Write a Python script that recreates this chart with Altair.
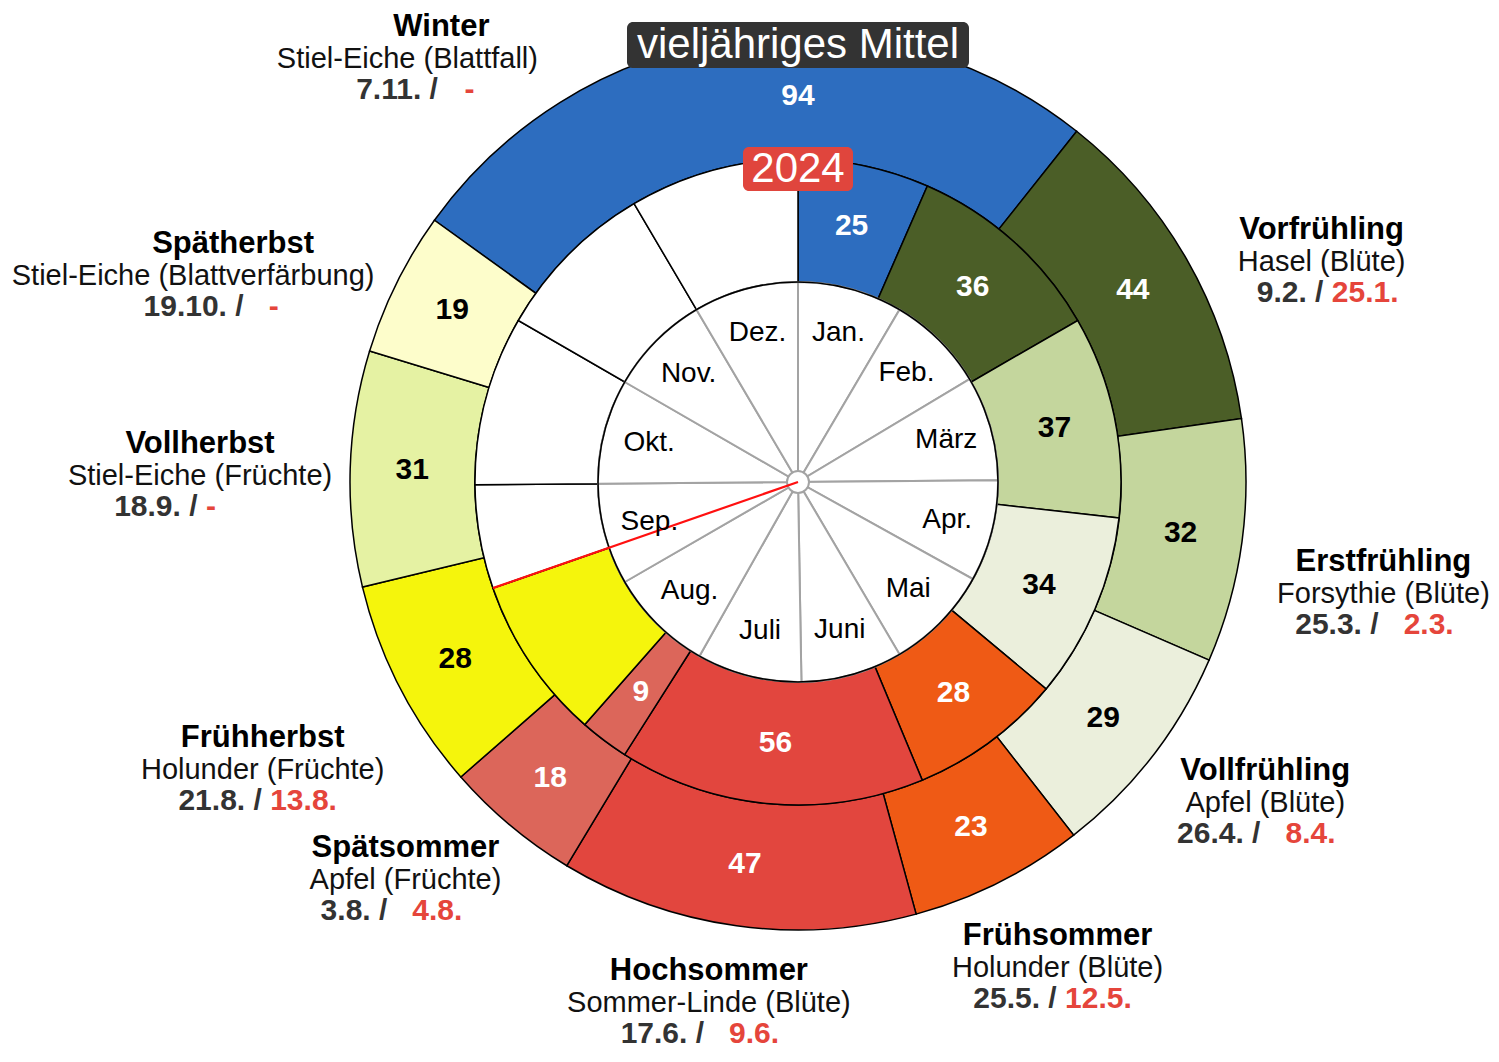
import math
import altair as alt
import pandas as pd

# ---------------- data ----------------
seasons = ["Winter", "Vorfrühling", "Erstfrühling", "Vollfrühling", "Frühsommer",
           "Hochsommer", "Spätsommer", "Frühherbst", "Vollherbst", "Spätherbst"]
plants = ["Stiel-Eiche (Blattfall)", "Hasel (Blüte)", "Forsythie (Blüte)", "Apfel (Blüte)",
          "Holunder (Blüte)", "Sommer-Linde (Blüte)", "Apfel (Früchte)", "Holunder (Früchte)",
          "Stiel-Eiche (Früchte)", "Stiel-Eiche (Blattverfärbung)"]
mean_start = ["7.11.", "9.2.", "25.3.", "26.4.", "25.5.", "17.6.", "3.8.", "21.8.", "18.9.", "19.10."]
mean_days = [94, 44, 32, 29, 23, 47, 18, 28, 31, 19]
start_2024 = ["-", "25.1.", "2.3.", "8.4.", "12.5.", "9.6.", "4.8.", "13.8.", "-", "-"]
days_2024 = [25, 36, 37, 34, 28, 56, 9, None, None, None]
today_2024 = "12.9."
months = ["Jan.", "Feb.", "März", "Apr.", "Mai", "Juni", "Juli", "Aug.", "Sep.", "Okt.", "Nov.", "Dez."]
month_days_2024 = [31, 29, 31, 30, 31, 30, 31, 31, 30, 31, 30, 31]
month_days_mean = [31, 28, 31, 30, 31, 30, 31, 31, 30, 31, 30, 31]
title_mean = "vieljähriges Mittel"
title_year = "2024"

# ---------------- style / layout ----------------
FONT = "Liberation Sans"
CX, CY = 790, 474           # centre of the clock inside the view
R_OUT, R_MID, R_IN = 448, 323, 200
style = {
    "Winter": ("#2d6dbf", "white"), "Vorfrühling": ("#4b5e27", "white"),
    "Erstfrühling": ("#c4d69d", "black"), "Vollfrühling": ("#ebefdc", "black"),
    "Frühsommer": ("#ef5a15", "white"), "Hochsommer": ("#e2463e", "white"),
    "Spätsommer": ("#dc665a", "white"), "Frühherbst": ("#f5f50c", "black"),
    "Vollherbst": ("#e5f2a3", "black"), "Spätherbst": ("#fdfdcb", "black"),
}
# annotation anchor (angle deg, radius px), name dx, date dx, gap (in digit widths)
layout = {
    "Winter": (317.3, 576, 34, 8, 1), "Vorfrühling": (67.2, 568, 0, 6, 0),
    "Erstfrühling": (100.8, 596, 0, -9, 1), "Vollfrühling": (124.5, 567, 0, -9, 1),
    "Frühsommer": (151.9, 551, 0, -5, 0), "Hochsommer": (189.7, 529, 0, -9, 1),
    "Spätsommer": (224.6, 559, 0, -14, 1), "Frühherbst": (241.7, 608, 0, -5, 0),
    "Vollherbst": (270.6, 598, 0, -35, 0), "Spätherbst": (288.8, 639, 40, 18, 1),
}


def doy(s, mdays):
    d, m = [int(p) for p in s.strip().strip(".").split(".")]
    return sum(mdays[:m - 1]) + d - 1


def deg(day, ylen):
    return day / ylen * 360.0


tscale = alt.Scale(domain=[0, 360], range=[0, 2 * math.pi], nice=False, zero=False)


def TH(f):
    return alt.Theta(f, type="quantitative", scale=tscale, stack=None)


def TH2(f):
    return alt.Theta2(f)


POS = dict(x=alt.value(CX), y=alt.value(CY))

# ---------- outer ring (long-term mean) ----------
starts = [doy(s, month_days_mean) for s in mean_start]
rows = []
for i, s in enumerate(seasons):
    t0 = starts[i]
    t1 = starts[(i + 1) % len(seasons)]
    if t1 <= t0:
        t1 += 365
    mid = 0.0 if t1 > 365 else (t0 + t1) / 2
    rows.append(dict(season=s, a0=deg(t0, 365), a1=deg(t1, 365), am=deg(mid, 365),
                     label=str(mean_days[i]), fill=style[s][0], tcol=style[s][1]))
outer = pd.DataFrame(rows)

# ---------- middle ring (2024) ----------
today = doy(today_2024, month_days_2024)
known = [i for i, s in enumerate(start_2024) if s != "-"]
bounds = [0] + [doy(start_2024[i], month_days_2024) for i in known] + [today]
seg_idx = [0] + known
rows = []
for k, i in enumerate(seg_idx):
    t0, t1 = bounds[k], bounds[k + 1]
    rows.append(dict(season=seasons[i], a0=deg(t0, 366), a1=deg(t1, 366),
                     am=deg((t0 + t1) / 2, 366),
                     label="" if days_2024[i] is None else str(days_2024[i]),
                     fill=style[seasons[i]][0], tcol=style[seasons[i]][1]))
cum = [0]
for md in month_days_2024:
    cum.append(cum[-1] + md)
pts = [today] + [c for c in cum if c > today]
for a, b in zip(pts[:-1], pts[1:]):
    rows.append(dict(season="rest", a0=deg(a, 366), a1=deg(b, 366), am=deg((a + b) / 2, 366),
                     label="", fill="white", tcol="black"))
middle = pd.DataFrame(rows)

# ---------- inner ring (months) ----------
inner = pd.DataFrame([dict(month=m, a0=deg(cum[i], 366), a1=deg(cum[i + 1], 366),
                           am=deg((cum[i] + cum[i + 1]) / 2, 366)) for i, m in enumerate(months)])

full = pd.DataFrame([dict(a0=0.0, a1=360.0)])
redline = pd.DataFrame([dict(a0=deg(today, 366), a1=deg(today, 366))])

# ---------- annotations ----------
def to_polar(x, y):
    dx, dy = x - CX, y - CY
    return (math.degrees(math.atan2(dx, -dy)) % 360.0, math.hypot(dx, dy))


FS_NAME, FS_PLANT, FS_DATE = 31, 29, 30
W_BOLD = {"0": 556, "1": 556, "2": 556, "3": 556, "4": 556, "5": 556, "6": 556, "7": 556,
          "8": 556, "9": 556, ".": 278, "/": 278, " ": 278, "-": 333}


def width(s, fs):
    return sum(W_BOLD.get(c, 556) for c in s) / 1000.0 * fs


ann = []
for i, s in enumerate(seasons):
    th, r, ndx, ddx, gap = layout[s]
    ax = CX + r * math.sin(math.radians(th))
    ay = CY - r * math.cos(math.radians(th))
    dark = f"{mean_start[i]} /"
    red = start_2024[i]
    sp = width(" ", FS_DATE) + gap * width("0", FS_DATE)
    total = width(dark, FS_DATE) + sp + width(red, FS_DATE)
    x0 = ax + ddx - total / 2
    for kind, txt, x, y in [("name", s, ax + ndx, ay - 32), ("plant", plants[i], ax, ay),
                            ("dark", dark, x0, ay + 31),
                            ("red", red, x0 + width(dark, FS_DATE) + sp, ay + 31)]:
        t, rr = to_polar(x, y)
        ann.append(dict(kind=kind, text=txt, th=t, r=rr))
ann = pd.DataFrame(ann)

# ---------- layers ----------
ring_outer = alt.Chart(outer).mark_arc(stroke="black", strokeWidth=1.5).encode(
    theta=TH("a0"), theta2=TH2("a1"), radius=alt.value(R_OUT), radius2=alt.value(R_MID),
    color=alt.Color("fill:N", scale=None), **POS)
ring_mid = alt.Chart(middle).mark_arc(stroke="black", strokeWidth=1.5).encode(
    theta=TH("a0"), theta2=TH2("a1"), radius=alt.value(R_MID), radius2=alt.value(R_IN),
    color=alt.Color("fill:N", scale=None), **POS)
ring_in = alt.Chart(inner).mark_arc(stroke="#a3a3a3", strokeWidth=2, fill="white").encode(
    theta=TH("a0"), theta2=TH2("a1"), radius=alt.value(R_IN), radius2=alt.value(0), **POS)
circle_in = alt.Chart(full).mark_arc(filled=False, stroke="black", strokeWidth=1.5).encode(
    theta=TH("a0"), theta2=TH2("a1"), radius=alt.value(R_IN), radius2=alt.value(0), **POS)
hub = alt.Chart(full).mark_arc(fill="white", stroke="#a3a3a3", strokeWidth=2).encode(
    theta=TH("a0"), theta2=TH2("a1"), radius=alt.value(11), radius2=alt.value(0), **POS)
red = alt.Chart(redline).mark_arc(filled=False, stroke="#ff1010", strokeWidth=2.2).encode(
    theta=TH("a0"), theta2=TH2("a1"), radius=alt.value(R_MID), radius2=alt.value(0), **POS)

lab_outer = alt.Chart(outer).mark_text(font=FONT, fontSize=30, fontWeight="bold",
                                       align="center", baseline="middle").encode(
    theta=TH("am"), radius=alt.value(386), text="label:N",
    color=alt.Color("tcol:N", scale=None), **POS)
lab_mid = alt.Chart(middle).mark_text(font=FONT, fontSize=30, fontWeight="bold",
                                      align="center", baseline="middle").encode(
    theta=TH("am"), radius=alt.value(262), text="label:N",
    color=alt.Color("tcol:N", scale=None), **POS)
lab_month = alt.Chart(inner).mark_text(font=FONT, fontSize=28, color="black",
                                       align="center", baseline="middle").encode(
    theta=TH("am"), radius=alt.value(154), text="month:N", **POS)


def ann_layer(kind, **mk):
    return alt.Chart(ann).transform_filter(alt.datum.kind == kind).mark_text(
        font=FONT, baseline="middle", **mk).encode(
        theta=TH("th"), radius=alt.Radius("r:Q", scale=None), text="text:N", **POS)


a_name = ann_layer("name", fontSize=FS_NAME, fontWeight="bold", align="center", color="black")
a_plant = ann_layer("plant", fontSize=FS_PLANT, align="center", color="#111111")
a_dark = ann_layer("dark", fontSize=FS_DATE, fontWeight="bold", align="left", color="#333333")
a_red = ann_layer("red", fontSize=FS_DATE, fontWeight="bold", align="left", color="#e5453b")

titles = pd.DataFrame([dict(text=title_mean, th=0.0, r=437.0, w=342, h=46, fill="#333333"),
                       dict(text=title_year, th=0.0, r=313.0, w=110, h=44, fill="#e0453d")])
boxes = []
for _, t in titles.iterrows():
    cy = CY - t.r
    boxes.append(alt.Chart(pd.DataFrame([t.to_dict()])).mark_rect(
        cornerRadius=6, fill=t.fill).encode(
        x=alt.value(CX - t.w / 2), x2=alt.value(CX + t.w / 2),
        y=alt.value(cy - t.h / 2), y2=alt.value(cy + t.h / 2)))
title_text = alt.Chart(titles).mark_text(font=FONT, fontSize=42, color="white",
                                         align="center", baseline="middle").encode(
    theta=TH("th"), radius=alt.Radius("r:Q", scale=None), text="text:N", **POS)

chart = alt.layer(
    ring_outer, ring_mid, ring_in, circle_in, hub, red,
    lab_outer, lab_mid, lab_month,
    a_name, a_plant, a_dark, a_red,
    *boxes, title_text,
).properties(
    width=1483, height=1040, padding=0,
    autosize=alt.AutoSizeParams(type="none"),
).configure_view(stroke=None)

chart.save("out.html", embed_options={"renderer": "svg", "actions": False})
